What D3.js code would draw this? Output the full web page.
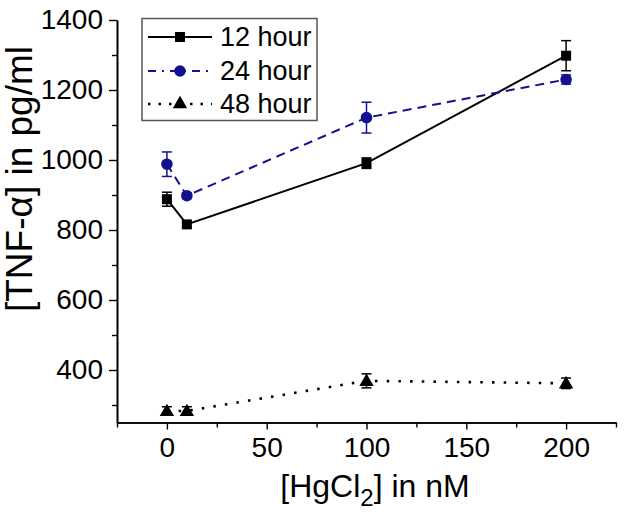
<!DOCTYPE html>
<html>
<head>
<meta charset="utf-8">
<script src="https://cdn.jsdelivr.net/npm/d3@7"></script>
<style>
  html, body { margin: 0; padding: 0; background: #fff; }
  svg { display: block; }
  text { font-family: "Liberation Sans", Arial, sans-serif; fill: #000; }
</style>
</head>
<body>
<script>
// ---- data ----
const concentrations = [0, 10, 100, 200];
const seriesNames = ["12 hour", "24 hour", "48 hour"];
const values12 = [888, 816, 991, 1298];
const errors12 = [20, 8, 15, 43];
const values24 = [988, 898, 1121, 1230];
const errors24 = [35, 8, 44, 13];
const values48 = [283, 283, 369, 362];
const errors48 = [12, 12, 20, 15];
const xTickValues = [0, 50, 100, 150, 200];
const xMinorTicks = [-25, 25, 75, 125, 175, 225];
const yTickValues = [400, 600, 800, 1000, 1200, 1400];
const yMinorTicks = [300, 500, 700, 900, 1100, 1300];

const W = 624, H = 514;
const svg = d3.select("body").append("svg").attr("width", W).attr("height", H);

const x = d3.scaleLinear().domain([-25, 225]).range([117, 616]);
const y = d3.scaleLinear().domain([250, 1400]).range([422.5, 20]);

// axes
svg.append("g").attr("transform", `translate(0,${y(250)})`)
  .call(d3.axisBottom(x).tickValues(xTickValues).tickSize(7).tickSizeOuter(0).tickPadding(8).tickFormat(d3.format("d")));
svg.append("g").attr("transform", `translate(0,${y(250)})`)
  .call(d3.axisBottom(x).tickValues(xMinorTicks).tickSize(5).tickSizeOuter(0).tickFormat(""));
svg.append("g").attr("transform", `translate(${x(-25)},0)`)
  .call(d3.axisLeft(y).tickValues(yTickValues).tickSize(8).tickSizeOuter(0).tickPadding(6).tickFormat(d3.format("d")));
svg.append("g").attr("transform", `translate(${x(-25)},0)`)
  .call(d3.axisLeft(y).tickValues(yMinorTicks).tickSize(5).tickSizeOuter(0).tickFormat(""));
svg.selectAll(".domain").attr("stroke", "#000").attr("stroke-width", 1.6);
svg.selectAll(".tick line").attr("stroke", "#000").attr("stroke-width", 1.4);
svg.selectAll(".tick text").attr("font-size", 28).attr("font-family", "Liberation Sans, Arial, sans-serif").attr("fill", "#000");

// axis titles
const xl = svg.append("text").attr("x", 375).attr("y", 497).attr("text-anchor", "middle").attr("font-size", 32);
xl.append("tspan").text("[HgCl");
xl.append("tspan").attr("font-size", 24).attr("dy", 9).text("2");
xl.append("tspan").attr("dy", -9).text("] in nM");

svg.append("text").attr("transform", `translate(32,179) rotate(-90)`)
  .attr("text-anchor", "middle").attr("font-size", 37).text("[TNF-α] in pg/ml");

// series
const navy = "#121291";
const series = [
  { vals: values12, errs: errors12, color: "#000", dash: null, width: 2, shape: d3.symbolSquare, size: 100 },
  { vals: values24, errs: errors24, color: navy, dash: "9,6", width: 2, shape: d3.symbolCircle, size: 105 },
  { vals: values48, errs: errors48, color: "#000", dash: "2.5,9.2", width: 2.6, shape: d3.symbolTriangle, size: 90 }
];

const line = d3.line().x(d => x(d[0])).y(d => y(d[1]));

series.forEach(s => {
  const pts = concentrations.map((c, i) => [c, s.vals[i], s.errs[i]]);
  svg.append("path").datum(pts).attr("d", line).attr("fill", "none")
    .attr("stroke", s.color).attr("stroke-width", s.width)
    .attr("stroke-dasharray", s.dash);
  const g = svg.append("g");
  pts.forEach(p => {
    const cx = x(p[0]);
    g.append("line").attr("x1", cx).attr("x2", cx).attr("y1", y(p[1] - p[2])).attr("y2", y(p[1] + p[2]))
      .attr("stroke", s.color).attr("stroke-width", 1.5);
    [p[1] - p[2], p[1] + p[2]].forEach(v => {
      g.append("line").attr("x1", cx - 5).attr("x2", cx + 5).attr("y1", y(v)).attr("y2", y(v))
        .attr("stroke", s.color).attr("stroke-width", 1.5);
    });
    g.append("path").attr("d", d3.symbol().type(s.shape).size(s.size)())
      .attr("transform", `translate(${cx},${y(p[1]) + (s.shape === d3.symbolTriangle ? 1 : 0)})`)
      .attr("fill", s.color);
  });
});

// legend
const lg = svg.append("g");
lg.append("rect").attr("x", 142).attr("y", 18.5).attr("width", 175).attr("height", 102)
  .attr("fill", "#fff").attr("stroke", "#555").attr("stroke-width", 1.5);
const legendDash = [null, "8,6,2,6", "2.5,8"];
const rowsY = [37, 71, 104];
series.forEach((s, i) => {
  const ry = rowsY[i];
  lg.append("line").attr("x1", 148).attr("x2", 212).attr("y1", ry).attr("y2", ry)
    .attr("stroke", s.color).attr("stroke-width", s.width).attr("stroke-dasharray", legendDash[i]);
  lg.append("path").attr("d", d3.symbol().type(s.shape).size(s.size)())
    .attr("transform", `translate(180,${ry})`).attr("fill", s.color);
  lg.append("text").attr("x", 220).attr("y", ry).attr("dy", "0.35em").attr("font-size", 27).text(seriesNames[i]);
});
</script>
</body>
</html>
